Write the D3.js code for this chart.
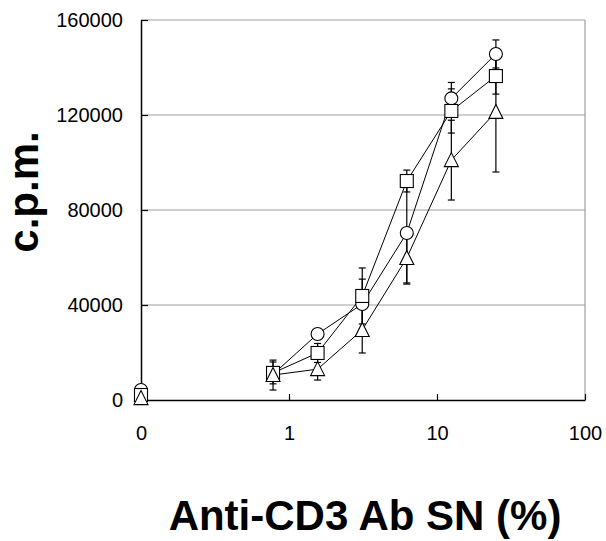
<!DOCTYPE html>
<html>
<head>
<meta charset="utf-8">
<script src="https://cdn.jsdelivr.net/npm/d3@7"></script>
<style>
  html, body { margin: 0; padding: 0; background: #fff; }
  svg { display: block; }
  text { font-family: "Liberation Sans", Arial, sans-serif; fill: #000; }
</style>
</head>
<body>
<svg id="chart" width="606" height="541"></svg>
<script>
// Anti-CD3 antibody supernatant dose (%); the zero dose sits at the "0" position of the log axis
const doses = [0.78, 1.56, 3.125, 6.25, 12.5, 25];
const zeroPos = 0.1;

// c.p.m. means and SD for the three groups
const circleZero = 4200;
const circleVals = [10800, 27800, 40400, 70300, 127000, 145700];
const circleErr  = [2000, 1500, 10500, 21000, 6700, 5900];

const squareZero = 2100;
const squareVals = [11400, 19800, 43800, 92200, 121700, 136400];
const squareErr  = [4600, 4000, 11800, 4600, 9300, 7600];

const triangleZero = 800;
const triangleVals = [10500, 13000, 29500, 59800, 101000, 121300];
const triangleErr  = [6300, 4600, 9700, 11000, 16800, 25300];

// Axis ticks
const xTicks = [0.1, 1, 10, 100];
const xTickLabels = ["0", "1", "10", "100"];
const yTicks = [0, 40000, 80000, 120000, 160000];

const series = [
  { shape: "circle",   zero: circleZero,   vals: circleVals,   err: circleErr },
  { shape: "square",   zero: squareZero,   vals: squareVals,   err: squareErr },
  { shape: "triangle", zero: triangleZero, vals: triangleVals, err: triangleErr }
];

const svg = d3.select("#chart");
const plotLeft = 141, plotRight = 585, plotTop = 20, plotBottom = 400;

const x = d3.scaleLog().domain([0.1, 100]).range([plotLeft, plotRight]);
const y = d3.scaleLinear().domain([0, 160000]).range([plotBottom, plotTop]);

// Gridlines and frame
const grid = svg.append("g");
grid.selectAll("line.grid")
  .data(yTicks.filter(d => d > 0))
  .join("line")
  .attr("x1", plotLeft).attr("x2", plotRight)
  .attr("y1", d => y(d)).attr("y2", d => y(d))
  .attr("stroke", "#a0a0a0").attr("stroke-width", 1.2);
grid.append("line")
  .attr("x1", plotRight).attr("x2", plotRight)
  .attr("y1", plotTop).attr("y2", plotBottom)
  .attr("stroke", "#a0a0a0").attr("stroke-width", 1.2);

// Y axis with inward ticks
const yAxis = d3.axisLeft(y).tickValues(yTicks).tickSizeInner(-7).tickSizeOuter(0)
  .tickPadding(18).tickFormat(d3.format("d"));
const gy = svg.append("g").attr("transform", `translate(${plotLeft},0)`).call(yAxis);
gy.select(".domain").attr("stroke", "#000").attr("stroke-width", 1.5);
gy.selectAll(".tick line").attr("stroke", "#000").attr("stroke-width", 1.2);
gy.selectAll(".tick text")
  .style("font-family", "'Liberation Sans', Arial, sans-serif")
  .style("font-size", "20px").attr("fill", "#000");

// X axis with inward ticks
const xAxis = d3.axisBottom(x).tickValues(xTicks).tickSizeInner(-6).tickSizeOuter(0)
  .tickPadding(26).tickFormat((d, i) => xTickLabels[i]);
const gx = svg.append("g").attr("transform", `translate(0,${plotBottom})`).call(xAxis);
gx.select(".domain").attr("stroke", "#000").attr("stroke-width", 1.5);
gx.selectAll(".tick line").attr("stroke", "#000").attr("stroke-width", 1.2);
gx.selectAll(".tick text")
  .style("font-family", "'Liberation Sans', Arial, sans-serif")
  .style("font-size", "20px").attr("fill", "#000");

// Connecting lines (zero dose is not joined)
const line = d3.line().x(d => x(d.dose)).y(d => y(d.v));
const plot = svg.append("g");
series.forEach(s => {
  s.points = doses.map((dose, i) => ({ dose, v: s.vals[i], e: s.err[i] }));
  plot.append("path")
    .datum(s.points)
    .attr("d", line)
    .attr("fill", "none").attr("stroke", "#000").attr("stroke-width", 1);
});

// Error bars
const cap = 3.5;
series.forEach(s => {
  const g = plot.append("g").attr("stroke", "#000").attr("stroke-width", 1.2);
  s.points.forEach(p => {
    const cx = x(p.dose), y1 = y(p.v + p.e), y0 = y(p.v - p.e);
    g.append("line").attr("x1", cx).attr("x2", cx).attr("y1", y1).attr("y2", y0);
    g.append("line").attr("x1", cx - cap).attr("x2", cx + cap).attr("y1", y1).attr("y2", y1);
    g.append("line").attr("x1", cx - cap).attr("x2", cx + cap).attr("y1", y0).attr("y2", y0);
  });
});

// Markers
function marker(g, shape, cx, cy) {
  if (shape === "circle") {
    g.append("circle").attr("cx", cx).attr("cy", cy).attr("r", 6.5);
  } else if (shape === "square") {
    g.append("rect").attr("x", cx - 6.5).attr("y", cy - 6.5).attr("width", 13).attr("height", 13);
  } else {
    g.append("path").attr("d", `M${cx},${cy - 7.5}L${cx + 7},${cy + 6.5}L${cx - 7},${cy + 6.5}Z`);
  }
}
series.forEach(s => {
  const g = plot.append("g").attr("fill", "#fff").attr("stroke", "#000").attr("stroke-width", 1.1);
  marker(g, s.shape, x(zeroPos), y(s.zero));
  s.points.forEach(p => marker(g, s.shape, x(p.dose), y(p.v)));
});

// Axis titles
svg.append("text")
  .attr("transform", "translate(38,192) rotate(-90)")
  .attr("text-anchor", "middle")
  .style("font-size", "42px").style("font-weight", "bold")
  .text("c.p.m.");
svg.append("text")
  .attr("x", 365).attr("y", 530)
  .attr("text-anchor", "middle")
  .style("font-size", "42px").style("font-weight", "bold")
  .text("Anti-CD3 Ab SN (%)");
</script>
</body>
</html>
